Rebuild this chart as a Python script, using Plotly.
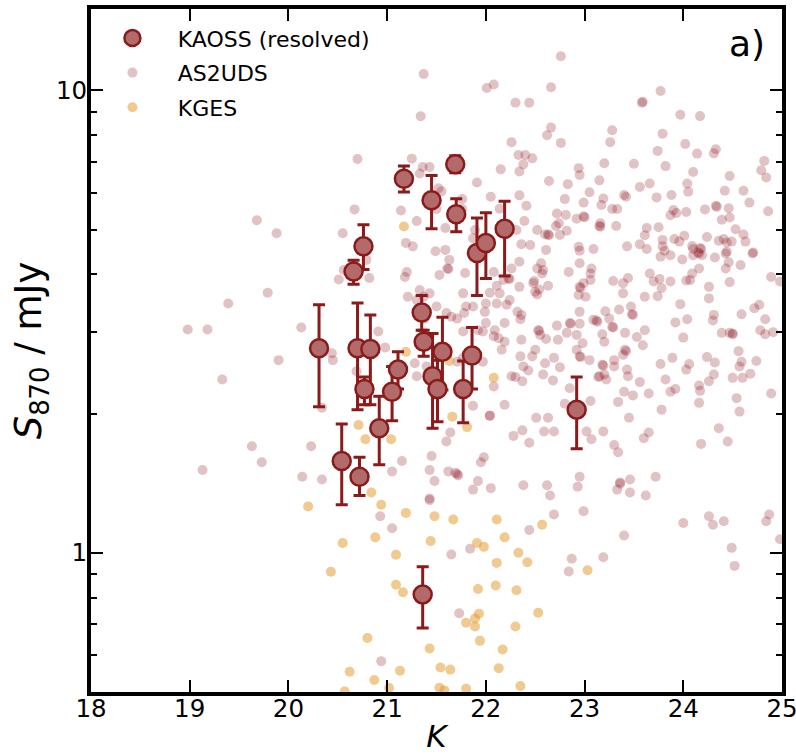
import math
import plotly.graph_objects as go

# ---------------- data ----------------
kaoss_k = [20.31, 20.54, 20.66, 20.70, 20.72, 20.76, 20.77, 20.83, 20.92, 21.05,
           21.11, 21.17, 21.35, 21.37, 21.36, 21.45, 21.46, 21.51, 21.56, 21.69,
           21.70, 21.77, 21.86, 21.91, 22.00, 22.19, 22.92]
kaoss_s = [2.77, 1.58, 4.06, 2.77, 1.46, 4.60, 2.26, 2.76, 1.86, 2.23,
           2.49, 6.44, 3.31, 2.86, 0.813, 5.79, 2.41, 2.26, 2.72, 6.92,
           5.40, 2.26, 2.67, 4.45, 4.68, 5.02, 2.04]
kaoss_err_hi = [0.67, 0.32, 0.23, 0.70, 0.15, 0.52, 0.14, 0.51, 0.32, 0.30,
                0.23, 0.42, 0.29, 0.17, 0.12, 0.76, 0.57, 0.35, 0.51, 0.30,
                0.43, 0.34, 0.40, 0.85, 0.76, 0.74, 0.36]
kaoss_err_lo = [0.70, 0.31, 0.25, 0.73, 0.13, 0.50, 0.17, 0.67, 0.31, 0.30,
                0.23, 0.41, 0.28, 0.20, 0.125, 0.77, 0.55, 0.34, 0.47, 0.28,
                0.45, 0.35, 0.41, 0.85, 0.76, 1.05, 0.36]

as2uds_k = [
    22.76, 21.37, 22.01, 22.08, 22.66, 22.30, 22.44, 23.77, 23.58, 23.59,
    23.97, 24.17, 21.34, 22.66, 22.62, 23.28, 23.26, 23.79, 22.26, 22.76,
    23.74, 24.02, 24.14, 24.33, 24.31, 22.33, 22.40, 22.47, 22.38, 22.34,
    22.15, 23.20, 23.50, 23.82, 22.94, 22.95, 24.10, 24.47, 24.82, 24.79,
    24.84, 22.64, 22.83, 23.15, 23.66, 23.56, 24.04, 24.05, 24.42, 24.61,
    21.91, 23.05, 23.40, 23.42, 23.88, 23.73, 22.05, 22.34, 22.80, 22.99,
    23.19, 23.17, 22.41, 22.14, 24.67, 24.33, 24.34, 24.46, 24.86, 24.22,
    23.28, 23.33, 23.90, 23.93, 24.03, 23.87, 22.72, 22.81, 22.99, 23.00,
    22.92, 24.39, 24.47, 22.39, 22.74, 23.16, 23.15, 23.16, 22.71, 23.32,
    23.63, 23.75, 24.53, 22.31, 22.52, 22.60, 22.63, 22.64, 22.75, 22.82,
    23.61, 24.61, 24.24, 23.79, 23.91, 23.96, 24.01, 24.09, 24.36, 24.41,
    24.44, 24.49, 24.63, 22.36, 22.45, 22.61, 22.94, 22.95, 23.09, 23.43,
    23.56, 23.63, 23.79, 23.81, 24.10, 24.17, 24.18, 24.44, 24.71,
    21.25, 21.36, 21.43, 21.52, 21.55, 21.76, 21.14, 21.30, 21.50, 21.76,
    21.59, 21.89, 21.19, 21.26, 21.49, 21.59, 21.33, 21.87, 20.70, 20.67,
    19.68, 19.88, 20.55, 19.79, 19.39, 18.98, 19.18, 20.13, 20.51, 20.56,
    20.82, 20.79, 20.91, 20.98, 20.44, 20.45, 19.90, 19.33, 20.34, 20.23,
    20.14, 20.34, 19.63, 19.73, 19.13,
    21.63, 21.61, 21.62, 21.53, 21.20, 21.18, 21.79, 21.33, 21.37, 21.43,
    21.21, 21.77, 21.80, 21.60, 21.65, 21.71, 21.78, 21.38, 21.30, 21.50,
    21.87, 21.77, 21.92, 21.97, 22.00, 21.71, 21.77, 21.28, 21.30, 21.40,
    20.69, 21.15, 21.05, 21.45, 21.43, 21.48, 21.43, 21.43, 21.62, 21.69,
    21.72, 21.71, 21.87, 21.92, 22.05, 21.95, 21.98, 21.60, 21.64, 22.04,
    21.87, 20.93, 21.05, 20.94, 21.65, 21.84, 21.73,
    22.34, 22.26, 22.23, 22.24, 22.08, 22.18, 22.11, 22.34, 22.04, 22.14,
    22.24, 22.00, 22.11, 22.21, 22.32, 22.36, 22.35, 21.99, 22.19, 22.09,
    22.08, 22.13, 22.16, 21.97, 22.47, 22.38, 22.43, 22.26, 22.30, 22.37,
    22.58, 22.68, 22.69, 22.75, 22.08, 22.19, 22.04, 22.51, 22.63, 22.28,
    22.37, 22.44, 22.59, 22.69, 22.80, 22.85, 23.06, 23.02, 23.07, 23.19,
    23.30, 23.34, 23.45, 23.49, 23.56, 23.65, 23.40, 23.34, 23.60, 23.65,
    23.78, 23.77, 23.82, 23.87, 23.92, 23.89, 24.03, 24.06, 24.16, 24.17,
    24.16, 24.26, 24.31, 24.24, 24.32, 24.18, 24.36, 24.45, 24.50, 24.60,
    24.68, 24.57, 24.59, 24.56, 24.74, 24.54, 24.57, 24.89,
    22.95, 22.96, 22.92, 23.05, 23.18, 23.19, 23.20, 23.22, 23.15, 23.14,
    23.30, 23.30, 23.43, 23.44, 23.41, 23.42, 23.39, 22.98, 22.92, 22.82,
    22.73, 22.85, 22.86, 22.95, 22.72, 22.53, 22.54, 22.61, 23.09, 23.12,
    23.13, 23.18, 23.20, 23.28, 23.29, 23.25, 23.21, 23.35, 23.41, 23.53,
    23.59, 23.61, 23.47, 23.48, 23.49, 22.95, 23.61, 23.39, 23.39, 23.44,
    23.29, 23.66, 23.70, 23.76, 23.78, 23.74, 23.87, 23.97, 23.92, 24.04,
    24.00, 24.03, 24.07, 24.09, 24.16, 23.99, 24.10, 24.15, 24.16, 24.19,
    24.32, 24.43, 24.46, 24.43, 24.47, 24.58, 24.70, 24.26, 24.26, 24.31,
    24.30, 24.39, 24.47, 24.50, 24.50, 24.59, 24.72, 24.77, 24.83, 24.78,
    24.83, 24.91, 24.89, 24.98, 23.77, 23.87, 22.95, 23.07, 23.06, 23.06,
    22.99, 22.95, 22.96, 22.94, 23.01, 22.84, 22.63, 22.56, 22.58, 22.57,
    22.52, 22.49, 22.54, 22.52,
    22.95, 22.62, 22.38, 23.36, 23.46, 23.72, 22.55, 22.50, 22.60, 22.36,
    22.35, 22.19, 22.48, 22.50, 22.65, 22.93, 23.33, 23.36, 23.46, 23.62,
    22.69, 22.99, 22.44, 23.40, 22.87, 22.84, 23.19, 24.00, 24.26, 24.30,
    24.41, 24.49, 24.52, 24.84, 24.87, 24.98,
]
as2uds_s = [
    11.86, 10.85, 10.12, 10.30, 10.16, 9.41, 9.41, 9.97, 9.41, 9.45,
    8.86, 8.80, 8.79, 8.31, 8.00, 8.20, 7.73, 8.06, 7.73, 7.70,
    7.40, 7.66, 7.30, 7.46, 7.31, 7.25, 7.25, 7.13, 6.92, 6.68,
    6.75, 6.96, 6.94, 6.86, 6.79, 6.56, 6.66, 6.53, 7.04, 6.72,
    6.48, 6.37, 6.27, 6.39, 6.29, 6.18, 6.29, 6.04, 6.07, 6.07,
    6.32, 6.02, 5.94, 5.89, 5.94, 5.87, 5.89, 5.93, 5.82, 5.72,
    5.84, 5.65, 5.63, 5.55, 5.72, 5.63, 5.60, 5.56, 5.48, 5.53,
    5.54, 5.54, 5.51, 5.43, 5.46, 5.37, 5.42, 5.38, 5.34, 5.32,
    5.28, 5.25, 5.31, 5.22, 5.16, 5.16, 5.09, 5.07, 5.09, 5.09,
    5.04, 5.06, 5.01, 4.99, 4.99, 4.88, 4.88, 4.86, 4.87, 4.97,
    4.86, 4.88, 4.82, 4.75, 4.77, 4.71, 4.85, 4.61, 4.73, 4.77,
    4.69, 4.71, 4.71, 4.65, 4.63, 4.52, 4.59, 4.50, 4.54, 4.60,
    4.65, 4.54, 4.60, 4.50, 4.54, 4.56, 4.54, 4.48, 4.46,
    7.12, 6.83, 6.83, 6.14, 6.05, 5.82, 5.50, 5.22, 5.54, 5.54,
    5.04, 4.99, 4.68, 4.60, 4.49, 4.52, 6.61, 4.79, 7.11, 5.53,
    5.24, 4.91, 4.91, 3.65, 3.46, 3.04, 3.04, 3.07, 3.90, 4.09,
    3.93, 4.30, 3.01, 2.78, 2.70, 2.61, 2.61, 2.37, 2.06, 1.70,
    1.46, 1.44, 1.70, 1.57, 1.51,
    4.30, 4.12, 4.11, 3.99, 4.05, 3.95, 4.03, 3.70, 3.58, 3.64,
    3.58, 3.64, 3.41, 3.30, 3.24, 3.21, 3.30, 3.21, 3.52, 3.41,
    3.41, 3.01, 3.03, 3.01, 3.14, 2.59, 2.64, 2.57, 2.41, 2.53,
    2.47, 1.58, 1.50, 1.62, 1.51, 1.43, 1.31, 1.30, 1.50, 1.49,
    1.47, 1.48, 1.37, 1.43, 1.38, 1.57, 1.61, 1.74, 1.82, 1.98,
    2.08, 1.20, 1.13, 0.583, 0.992, 1.02, 0.740,
    4.26, 4.12, 3.92, 3.91, 4.05, 3.89, 3.78, 3.76, 3.65, 3.64,
    3.52, 3.46, 3.46, 3.44, 3.32, 3.27, 3.20, 3.32, 3.14, 3.03,
    2.94, 2.91, 2.75, 2.59, 2.66, 2.53, 2.48, 2.41, 2.40, 2.35,
    2.43, 2.36, 2.64, 2.52, 2.29, 2.09, 1.98, 1.96, 1.96, 1.79,
    1.84, 1.73, 1.83, 1.83, 2.10, 2.27, 2.13, 1.83, 1.76, 1.83,
    1.71, 1.65, 1.96, 2.19, 2.34, 2.21, 2.23, 2.12, 1.77, 1.82,
    2.04, 2.56, 2.37, 2.23, 2.26, 2.64, 2.49, 2.56, 2.30, 2.24,
    2.11, 2.35, 2.43, 2.65, 2.58, 1.72, 1.86, 1.74, 2.39, 2.39,
    2.44, 2.53, 2.59, 2.73, 2.60, 2.16, 2.02, 2.21,
    2.66, 2.65, 2.75, 2.61, 2.55, 2.54, 2.43, 2.37, 2.41, 2.40,
    2.61, 2.53, 2.49, 2.41, 2.75, 2.73, 2.68, 2.84, 2.96, 2.99,
    2.89, 3.14, 3.13, 3.13, 3.10, 3.03, 3.02, 2.90, 3.19, 3.18,
    3.16, 2.97, 2.86, 3.08, 3.07, 3.21, 3.33, 3.36, 2.99, 2.93,
    2.81, 3.03, 3.41, 3.28, 3.27, 3.32, 3.58, 3.64, 3.83, 3.93,
    3.87, 4.02, 3.86, 3.91, 3.74, 3.59, 3.86, 3.45, 3.15, 3.20,
    2.92, 3.88, 3.89, 4.02, 4.12, 4.31, 4.40, 4.46, 4.44, 4.40,
    4.35, 4.44, 4.25, 4.12, 3.85, 4.19, 4.44, 3.76, 3.55, 3.27,
    3.18, 2.99, 2.99, 2.98, 2.97, 3.28, 3.38, 3.44, 3.20, 3.03,
    2.97, 3.00, 3.95, 3.86, 4.37, 4.40, 4.23, 4.12, 4.02, 3.89,
    3.83, 3.76, 3.74, 3.61, 3.58, 4.05, 3.78, 4.23, 4.09, 4.02,
    4.12, 3.87, 3.71, 3.62,
    1.46, 1.40, 1.40, 1.42, 1.44, 1.46, 2.96, 2.75, 2.57, 2.89,
    2.66, 2.86, 3.83, 3.67, 1.33, 1.39, 1.37, 1.41, 1.35, 1.33,
    1.21, 1.23, 1.12, 1.09, 0.971, 0.911, 0.978, 1.16, 1.20, 1.15,
    1.17, 1.025, 0.937, 1.17, 1.21, 1.07,
]

kges_k = [21.17, 21.19, 21.63, 22.08, 21.66, 21.81, 20.71, 20.78, 21.04, 20.84,
          20.94, 20.20, 21.19, 21.48, 21.67, 22.11, 20.55, 20.88, 21.44, 21.91,
          21.98, 22.19, 22.57, 21.09, 22.33, 22.42, 22.11, 23.03, 20.43, 21.09,
          21.16, 21.92, 22.10, 22.31, 22.53, 21.93, 21.89, 21.80, 21.89, 22.30,
          21.94, 20.80, 21.43, 22.17, 20.62, 20.87, 21.13, 21.54, 21.64, 22.13,
          21.02, 20.57, 21.53, 21.58, 21.80, 22.35]
kges_s = [5.08, 2.72, 2.60, 2.39, 1.97, 1.87, 1.89, 1.76, 1.76, 1.35,
          1.27, 1.26, 1.22, 1.20, 1.18, 1.18, 1.05, 1.08, 1.06, 1.05,
          1.03, 1.08, 1.15, 0.99, 1.00, 0.954, 0.951, 0.917, 0.910, 0.853,
          0.822, 0.835, 0.850, 0.830, 0.742, 0.738, 0.721, 0.706, 0.693, 0.693,
          0.645, 0.654, 0.621, 0.618, 0.553, 0.531, 0.556, 0.565, 0.559, 0.563,
          0.510, 0.501, 0.511, 0.504, 0.508, 0.515]

x_ticks = [18, 19, 20, 21, 22, 23, 24, 25]
y_major = [1, 10]
y_major_text = ["1", "10"]
y_minor = [0.6, 0.7, 0.8, 0.9, 2, 3, 4, 5, 6, 7, 8, 9]

DARK = "#8B1A1A"
PAD = "\u00a0\u00a0\u00a0\u2009"   # widens the gap between legend symbol and label

fig = go.Figure()
fig.add_trace(go.Scatter(
    x=as2uds_k, y=as2uds_s, mode="markers", name=PAD + "AS2UDS",
    legendrank=2, legendgroup="b",
    marker=dict(size=10, color="rgba(140,20,30,0.26)", line=dict(width=0)),
))
fig.add_trace(go.Scatter(
    x=kges_k, y=kges_s, mode="markers", name=PAD + "KGES",
    legendrank=3, legendgroup="c",
    marker=dict(size=10, color="rgba(225,150,35,0.5)", line=dict(width=0)),
))
fig.add_trace(go.Scatter(
    x=kaoss_k, y=kaoss_s, mode="markers", name=PAD + "KAOSS (resolved)",
    legendrank=1, legendgroup="a",
    marker=dict(size=18, color="rgb(178,106,106)", line=dict(width=2.5, color=DARK)),
    error_y=dict(type="data", symmetric=False, array=kaoss_err_hi,
                 arrayminus=kaoss_err_lo, color=DARK, thickness=3, width=6),
))

axis_common = dict(
    showline=True, linewidth=4, linecolor="black", mirror="ticks",
    ticks="inside", tickcolor="black", tickwidth=2, ticklen=12,
    showgrid=False, zeroline=False, automargin=False,
    ticklabeloverflow="allow",
    tickfont=dict(family="DejaVu Sans", size=24.5, color="black"),
)

fig.update_xaxes(
    range=[18, 25], tickmode="array", tickvals=x_ticks,
    ticktext=[str(v) for v in x_ticks], ticklabelstandoff=-8,
    title=dict(text="<i>K</i>", font=dict(family="DejaVu Sans", size=31, color="black"),
               standoff=17),
    **axis_common,
)
fig.update_yaxes(
    type="log", range=[math.log10(0.5), math.log10(15)],
    tickmode="array", tickvals=y_major, ticktext=y_major_text, ticklabelstandoff=-5,
    minor=dict(tickmode="array", tickvals=y_minor, ticks="inside", ticklen=6,
               tickwidth=1.5, tickcolor="black", showgrid=False),
    title=dict(text="<i>S</i><sub>870</sub> / mJy",
               font=dict(family="DejaVu Sans", size=37, color="black"), standoff=4),
    **axis_common,
)

fig.add_annotation(
    text="a)", xref="paper", yref="paper", x=0.978, y=0.949,
    xanchor="right", yanchor="middle", showarrow=False,
    font=dict(family="DejaVu Sans", size=36, color="black"),
)

fig.update_layout(
    width=796, height=754,
    margin=dict(l=91, r=14, t=9, b=62),
    paper_bgcolor="white", plot_bgcolor="white",
    font=dict(family="DejaVu Sans", color="black"),
    showlegend=True,
    legend=dict(x=0.031, y=0.988, xanchor="left", yanchor="top",
                tracegroupgap=3, traceorder="grouped",
                bgcolor="rgba(0,0,0,0)", font=dict(family="DejaVu Sans", size=22, color="black")),
)

fig.write_html("out.html")
